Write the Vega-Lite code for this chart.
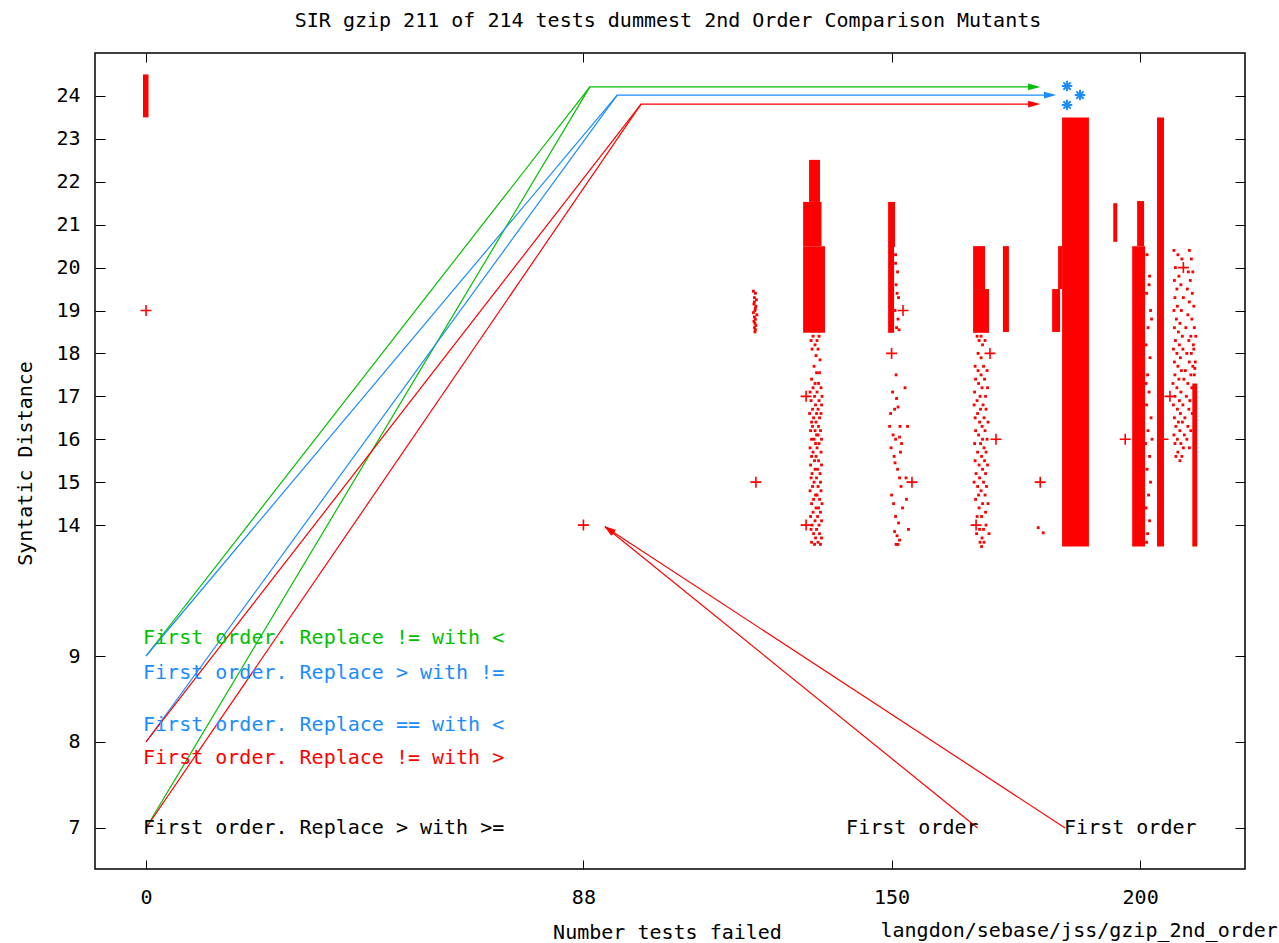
{
"$schema": "https://vega.github.io/schema/vega-lite/v6.json",
"width": 1150, "height": 816,
"autosize": {"type": "none"},
"padding": {"left": 95, "top": 53, "right": 34, "bottom": 74},
"background": "white",
"title": {"text": "SIR gzip 211 of 214 tests dummest 2nd Order Comparison Mutants", "font": "DejaVu Sans Mono", "fontSize": 20, "fontWeight": "normal", "color": "#000", "anchor": "middle", "baseline": "alphabetic", "offset": 6, "dx": -2},
"datasets": {
"blocks": [
{"x":-0.6,"x2":0.5,"y":23.5,"y2":24.5},
{"x":133.4,"x2":135.6,"y":21.53,"y2":22.51},
{"x":132.2,"x2":135.9,"y":20.5,"y2":21.53},
{"x":132.2,"x2":136.6,"y":18.48,"y2":20.5},
{"x":149.3,"x2":150.7,"y":20.48,"y2":21.53},
{"x":149.3,"x2":150.5,"y":18.48,"y2":20.48},
{"x":166.4,"x2":168.8,"y":19.5,"y2":20.5},
{"x":166.4,"x2":169.6,"y":18.48,"y2":19.5},
{"x":172.4,"x2":173.6,"y":18.5,"y2":20.5},
{"x":182.3,"x2":183.9,"y":18.5,"y2":19.5},
{"x":183.5,"x2":184.3,"y":19.5,"y2":20.5},
{"x":184.3,"x2":189.7,"y":13.5,"y2":23.5},
{"x":194.6,"x2":195.4,"y":20.6,"y2":21.5},
{"x":199.4,"x2":200.8,"y":20.5,"y2":21.55},
{"x":198.4,"x2":201.0,"y":13.5,"y2":20.5},
{"x":203.4,"x2":204.8,"y":13.5,"y2":23.5},
{"x":210.5,"x2":211.5,"y":13.5,"y2":17.3}
],
"dots": [
{"x":122.2,"y":19.45},{"x":122.6,"y":19.4},{"x":122.4,"y":19.3},{"x":122.8,"y":19.25},{"x":122.3,"y":19.15},{"x":122.7,"y":19.1},{"x":122.5,"y":19.0},{"x":122.2,"y":18.95},{"x":122.9,"y":18.9},{"x":122.4,"y":18.85},{"x":122.6,"y":18.8},{"x":122.3,"y":18.75},{"x":122.5,"y":18.7},{"x":122.7,"y":18.65},{"x":122.4,"y":18.6},{"x":122.6,"y":18.55},{"x":122.5,"y":18.5},{"x":122.4,"y":19.2},{"x":122.6,"y":19.05},
{"x":134.2,"y":18.4},{"x":135.4,"y":18.4},{"x":133.8,"y":18.3},{"x":135.0,"y":18.3},{"x":134.6,"y":18.2},{"x":135.2,"y":18.1},{"x":134.0,"y":18.1},{"x":134.8,"y":17.95},{"x":135.6,"y":17.85},{"x":134.4,"y":17.7},{"x":134.9,"y":17.55},{"x":135.5,"y":17.55},{"x":133.9,"y":17.4},{"x":134.6,"y":17.3},{"x":135.3,"y":17.3},{"x":134.2,"y":17.2},{"x":135.8,"y":17.2},{"x":133.6,"y":17.1},{"x":135.0,"y":17.1},{"x":134.5,"y":17.0},{"x":136.0,"y":17.0},{"x":133.8,"y":16.9},{"x":135.4,"y":16.9},{"x":134.7,"y":16.8},{"x":135.9,"y":16.8},{"x":134.1,"y":16.7},{"x":135.2,"y":16.7},{"x":133.5,"y":16.6},{"x":134.9,"y":16.6},{"x":135.8,"y":16.6},{"x":134.3,"y":16.5},{"x":135.5,"y":16.5},{"x":134.8,"y":16.4},{"x":133.9,"y":16.4},{"x":135.3,"y":16.3},{"x":134.1,"y":16.3},{"x":133.7,"y":16.2},{"x":134.6,"y":16.2},{"x":135.7,"y":16.2},{"x":134.9,"y":16.1},{"x":135.2,"y":16.1},{"x":133.9,"y":16.0},{"x":134.4,"y":16.0},{"x":135.9,"y":16.0},{"x":134.7,"y":15.9},{"x":135.4,"y":15.9},{"x":133.6,"y":15.8},{"x":135.0,"y":15.8},{"x":134.2,"y":15.7},{"x":135.8,"y":15.7},{"x":134.8,"y":15.6},{"x":133.9,"y":15.6},{"x":135.3,"y":15.5},{"x":134.5,"y":15.5},{"x":133.7,"y":15.4},{"x":135.9,"y":15.4},{"x":134.6,"y":15.3},{"x":135.1,"y":15.3},{"x":134.0,"y":15.2},{"x":135.6,"y":15.2},{"x":134.9,"y":15.1},{"x":133.8,"y":15.1},{"x":134.4,"y":15.0},{"x":135.7,"y":15.0},{"x":135.2,"y":14.9},{"x":134.1,"y":14.9},{"x":133.6,"y":14.8},{"x":135.8,"y":14.8},{"x":134.7,"y":14.7},{"x":135.0,"y":14.7},{"x":134.3,"y":14.6},{"x":135.5,"y":14.6},{"x":133.9,"y":14.5},{"x":136.0,"y":14.5},{"x":134.8,"y":14.4},{"x":135.3,"y":14.4},{"x":134.2,"y":14.3},{"x":135.7,"y":14.3},{"x":133.7,"y":14.2},{"x":135.1,"y":14.2},{"x":134.6,"y":14.1},{"x":135.9,"y":14.1},{"x":134.0,"y":14.0},{"x":135.4,"y":14.0},{"x":134.9,"y":13.9},{"x":133.8,"y":13.9},{"x":135.5,"y":13.8},{"x":134.3,"y":13.8},{"x":134.7,"y":13.7},{"x":135.9,"y":13.7},{"x":133.9,"y":13.6},{"x":135.2,"y":13.6},{"x":134.5,"y":13.55},{"x":135.7,"y":13.55},
{"x":150.9,"y":17.5},{"x":150.2,"y":17.1},{"x":151.0,"y":16.95},{"x":150.6,"y":16.7},{"x":151.3,"y":16.75},{"x":149.6,"y":16.3},{"x":151.7,"y":16.3},{"x":150.3,"y":16.1},{"x":150.8,"y":16.0},{"x":151.6,"y":16.05},{"x":149.9,"y":15.8},{"x":150.5,"y":15.6},{"x":151.8,"y":15.7},{"x":150.7,"y":15.45},{"x":151.2,"y":15.3},{"x":151.6,"y":15.1},{"x":150.0,"y":14.7},{"x":150.4,"y":14.5},{"x":150.8,"y":14.2},{"x":151.4,"y":14.05},{"x":150.6,"y":13.85},{"x":151.1,"y":13.75},{"x":151.6,"y":13.65},{"x":150.9,"y":13.55},{"x":151.3,"y":13.55},{"x":152.2,"y":14.4},{"x":151.9,"y":14.9},{"x":149.8,"y":16.6},{"x":152.0,"y":15.9},{"x":153.2,"y":16.3},{"x":152.9,"y":15.1},{"x":153.4,"y":13.9},{"x":152.7,"y":17.2},{"x":153.0,"y":14.6},
{"x":150.8,"y":20.3},{"x":151.2,"y":19.9},{"x":150.9,"y":19.6},{"x":151.4,"y":19.3},{"x":150.7,"y":19.0},{"x":151.3,"y":18.8},{"x":151.0,"y":18.6},{"x":151.5,"y":18.55},{"x":150.8,"y":20.1},{"x":151.1,"y":19.4},
{"x":167.2,"y":18.4},{"x":168.0,"y":18.4},{"x":167.6,"y":18.3},{"x":168.8,"y":18.3},{"x":168.3,"y":18.2},{"x":167.4,"y":18.0},{"x":168.0,"y":17.9},{"x":166.8,"y":17.7},{"x":168.5,"y":17.7},{"x":167.4,"y":17.6},{"x":169.2,"y":17.6},{"x":168.0,"y":17.5},{"x":166.9,"y":17.4},{"x":168.7,"y":17.4},{"x":167.5,"y":17.3},{"x":168.2,"y":17.2},{"x":169.3,"y":17.2},{"x":166.7,"y":17.1},{"x":167.8,"y":17.0},{"x":168.9,"y":17.0},{"x":167.2,"y":16.9},{"x":168.4,"y":16.8},{"x":166.6,"y":16.8},{"x":167.9,"y":16.7},{"x":169.0,"y":16.7},{"x":167.3,"y":16.6},{"x":168.6,"y":16.5},{"x":166.8,"y":16.5},{"x":167.7,"y":16.4},{"x":169.4,"y":16.4},{"x":168.2,"y":16.3},{"x":166.9,"y":16.2},{"x":168.8,"y":16.2},{"x":167.5,"y":16.1},{"x":168.3,"y":16.0},{"x":169.2,"y":16.0},{"x":166.7,"y":15.9},{"x":167.9,"y":15.9},{"x":168.6,"y":15.8},{"x":167.3,"y":15.7},{"x":169.0,"y":15.7},{"x":168.1,"y":15.6},{"x":166.8,"y":15.5},{"x":168.7,"y":15.5},{"x":167.6,"y":15.4},{"x":169.3,"y":15.4},{"x":168.3,"y":15.3},{"x":167.0,"y":15.2},{"x":168.9,"y":15.2},{"x":167.7,"y":15.1},{"x":168.5,"y":15.0},{"x":166.6,"y":15.0},{"x":167.3,"y":14.9},{"x":169.1,"y":14.9},{"x":168.0,"y":14.8},{"x":167.5,"y":14.7},{"x":168.8,"y":14.7},{"x":166.9,"y":14.6},{"x":168.3,"y":14.5},{"x":169.4,"y":14.5},{"x":167.6,"y":14.4},{"x":168.9,"y":14.3},{"x":167.2,"y":14.2},{"x":168.1,"y":14.2},{"x":169.0,"y":14.0},{"x":167.7,"y":13.9},{"x":168.5,"y":13.9},{"x":167.1,"y":13.8},{"x":169.6,"y":13.8},{"x":168.2,"y":13.7},{"x":167.8,"y":13.6},{"x":168.6,"y":13.6},{"x":168.1,"y":13.5},
{"x":179.5,"y":13.94},{"x":180.5,"y":13.82},
{"x":201.4,"y":20.3},{"x":201.9,"y":19.8},{"x":201.3,"y":19.4},{"x":202.1,"y":19.0},{"x":201.6,"y":18.6},{"x":201.2,"y":18.2},{"x":202.0,"y":17.9},{"x":201.5,"y":17.5},{"x":201.8,"y":17.1},{"x":201.3,"y":16.8},{"x":202.2,"y":16.5},{"x":201.6,"y":16.2},{"x":201.1,"y":15.9},{"x":201.9,"y":15.6},{"x":201.4,"y":15.3},{"x":202.1,"y":15.0},{"x":201.7,"y":14.7},{"x":201.2,"y":14.4},{"x":201.9,"y":14.1},{"x":201.5,"y":13.8},{"x":201.3,"y":13.6},{"x":202.3,"y":18.8},{"x":201.8,"y":19.6},{"x":202.4,"y":16.0},{"x":201.2,"y":17.3},
{"x":206.8,"y":20.4},{"x":209.9,"y":20.4},{"x":207.6,"y":20.3},{"x":208.4,"y":20.2},{"x":210.3,"y":20.2},{"x":207.1,"y":20.0},{"x":209.7,"y":19.9},{"x":210.6,"y":19.9},{"x":207.8,"y":19.8},{"x":206.9,"y":19.7},{"x":210.1,"y":19.7},{"x":208.2,"y":19.6},{"x":207.4,"y":19.5},{"x":209.5,"y":19.5},{"x":210.5,"y":19.4},{"x":207.0,"y":19.3},{"x":208.7,"y":19.3},{"x":209.9,"y":19.2},{"x":207.5,"y":19.1},{"x":210.8,"y":19.1},{"x":206.8,"y":19.0},{"x":208.3,"y":19.0},{"x":209.6,"y":18.9},{"x":207.3,"y":18.8},{"x":210.4,"y":18.8},{"x":208.0,"y":18.7},{"x":206.9,"y":18.6},{"x":209.2,"y":18.6},{"x":210.9,"y":18.6},{"x":207.7,"y":18.5},{"x":208.5,"y":18.4},{"x":210.2,"y":18.4},{"x":207.1,"y":18.3},{"x":209.8,"y":18.3},{"x":207.9,"y":18.2},{"x":210.7,"y":18.2},{"x":206.7,"y":18.1},{"x":208.6,"y":18.1},{"x":207.4,"y":18.0},{"x":209.4,"y":18.0},{"x":210.3,"y":18.0},{"x":208.1,"y":17.9},{"x":206.9,"y":17.8},{"x":209.9,"y":17.8},{"x":207.6,"y":17.7},{"x":210.6,"y":17.7},{"x":208.3,"y":17.6},{"x":209.1,"y":17.6},{"x":207.0,"y":17.5},{"x":210.2,"y":17.5},{"x":207.8,"y":17.4},{"x":208.8,"y":17.4},{"x":206.6,"y":17.3},{"x":209.6,"y":17.3},{"x":207.4,"y":17.2},{"x":210.4,"y":17.2},{"x":208.2,"y":17.1},{"x":207.0,"y":17.0},{"x":209.3,"y":17.0},{"x":207.9,"y":16.9},{"x":210.0,"y":16.9},{"x":206.7,"y":16.8},{"x":208.6,"y":16.8},{"x":207.5,"y":16.7},{"x":209.8,"y":16.7},{"x":208.1,"y":16.6},{"x":210.5,"y":16.6},{"x":206.9,"y":16.5},{"x":209.0,"y":16.5},{"x":207.7,"y":16.4},{"x":208.5,"y":16.4},{"x":207.2,"y":16.3},{"x":209.6,"y":16.3},{"x":208.0,"y":16.2},{"x":210.2,"y":16.2},{"x":206.8,"y":16.1},{"x":208.9,"y":16.1},{"x":207.5,"y":16.0},{"x":209.4,"y":16.0},{"x":208.2,"y":15.9},{"x":207.0,"y":15.9},{"x":208.7,"y":15.8},{"x":209.9,"y":15.8},{"x":207.6,"y":15.7},{"x":208.4,"y":15.6},{"x":207.2,"y":15.6},{"x":208.0,"y":15.5},
{"x":210.9,"y":17.5},{"x":211.1,"y":17.8},{"x":210.8,"y":18.1},{"x":211.2,"y":18.4},{"x":211.0,"y":17.65}
],
"plus": [
{"x":0,"y":19},{"x":88,"y":14},{"x":122.7,"y":15},{"x":132.8,"y":17},{"x":132.8,"y":14},{"x":152.3,"y":19},{"x":150,"y":18},{"x":154.1,"y":15},{"x":169.8,"y":18},{"x":171,"y":16},{"x":167,"y":14},{"x":179.9,"y":15},{"x":197,"y":16},{"x":204.6,"y":16},{"x":208.7,"y":20},{"x":206,"y":17}
],
"paths": [
{"path":"g1","grp":"A","step":1,"x":0,"y":9},
{"path":"g1","grp":"A","step":2,"x":89.3,"y":24.21},
{"path":"g1","grp":"A","step":3,"x":179,"y":24.21},
{"path":"g2","grp":"A","step":1,"x":0,"y":7},
{"path":"g2","grp":"A","step":2,"x":89.3,"y":24.21},
{"path":"b1","grp":"B","step":1,"x":0,"y":9},
{"path":"b1","grp":"B","step":2,"x":94.8,"y":24.02},
{"path":"b1","grp":"B","step":3,"x":182.2,"y":24.02},
{"path":"b2","grp":"B","step":1,"x":0,"y":8},
{"path":"b2","grp":"B","step":2,"x":94.8,"y":24.02},
{"path":"r1","grp":"C","step":1,"x":0,"y":8},
{"path":"r1","grp":"C","step":2,"x":99.6,"y":23.81},
{"path":"r1","grp":"C","step":3,"x":179,"y":23.81},
{"path":"r2","grp":"C","step":1,"x":0,"y":7},
{"path":"r2","grp":"C","step":2,"x":99.6,"y":23.81}
],
"heads": [
{"grp":"A","x":178.7,"y":24.21},{"grp":"B","x":181.9,"y":24.02},{"grp":"C","x":178.7,"y":23.81}
],
"stars": [
{"x":185.3,"y":24.23},{"x":187.9,"y":24.02},{"x":185.3,"y":23.79}
],
"fo_arrows": [
{"id":1,"x":167.3,"y":7.0,"x2":92.35,"y2":13.96},
{"id":2,"x":184.9,"y":7.0,"x2":92.35,"y2":13.96}
],
"fo_heads": [
{"id":1,"x":93.1,"y":13.89},{"id":2,"x":93.2,"y":13.9}
],
"fo_labels": [
{"grp":"A","x":-0.6,"y":9.82,"label":"First order. Replace != with <"},
{"grp":"B","x":-0.6,"y":8.8,"label":"First order. Replace > with !="},
{"grp":"B","x":-0.6,"y":8.2,"label":"First order. Replace == with <"},
{"grp":"C","x":-0.6,"y":7.81,"label":"First order. Replace != with >"},
{"grp":"K","x":-0.6,"y":7.0,"label":"First order. Replace > with >="}
],
"notes": [
{"x":140.85,"y":7.0,"label":"First order"},{"x":184.7,"y":7.0,"label":"First order"}
]
},
"layer": [
{"data":{"name":"blocks"},"mark":{"type":"rect","color":"#ff0000"},
 "encoding":{
  "x":{"field":"x","type":"quantitative","scale":{"domain":[-10.26,221.1],"nice":false,"zero":false},
       "axis":{"orient":"bottom","values":[0,88,150,200],"tickSize":-9,"labelPadding":37,"labelBaseline":"middle","domain":false,"grid":false,"title":"Number tests failed","titleX":572,"titleY":63,"titleAlign":"center","titleBaseline":"middle"}},
  "x2":{"field":"x2"},
  "y":{"field":"y","type":"quantitative","scale":{"domain":[6.523,9,13,25],"range":[816,603,515,0],"nice":false,"zero":false},
       "axis":{"orient":"left","values":[7,8,9,14,15,16,17,18,19,20,21,22,23,24],"tickSize":-10,"labelPadding":25,"domain":false,"grid":false,"title":"Syntatic Distance","titleX":-70,"titleY":410,"titleAngle":270,"titleAlign":"center","titleBaseline":"middle"}},
  "y2":{"field":"y2"}}},
{"data":{"name":"dots"},"mark":{"type":"point","shape":"square","size":8,"filled":true,"color":"#ff0000","opacity":1},
 "encoding":{
  "x":{"field":"x","type":"quantitative","scale":{"domain":[-10.26,221.1],"nice":false,"zero":false},
       "axis":{"orient":"top","values":[0,88,150,200],"tickSize":-9,"labels":false,"domain":false,"grid":false,"title":null}},
  "y":{"field":"y","type":"quantitative","scale":{"domain":[6.523,9,13,25],"range":[816,603,515,0],"nice":false,"zero":false},
       "axis":{"orient":"right","values":[7,8,9,14,15,16,17,18,19,20,21,22,23,24],"tickSize":-10,"labels":false,"domain":false,"grid":false,"title":"langdon/sebase/jss/gzip_2nd_order","titleAngle":0,"titleX":-365,"titleY":877,"titleAlign":"left","titleBaseline":"middle"}}}},
{"data":{"name":"plus"},"mark":{"type":"point","shape":"M-1,0L1,0M0,-1L0,1","size":121,"filled":false,"stroke":"#ff0000","strokeWidth":1.6,"opacity":1},
 "encoding":{
  "x":{"field":"x","type":"quantitative","scale":{"domain":[-10.26,221.1],"nice":false,"zero":false},"axis":null},
  "y":{"field":"y","type":"quantitative","scale":{"domain":[6.523,9,13,25],"range":[816,603,515,0],"nice":false,"zero":false},"axis":null}}},
{"data":{"name":"paths"},"mark":{"type":"line","strokeWidth":1.2},
 "encoding":{
  "x":{"field":"x","type":"quantitative","scale":{"domain":[-10.26,221.1],"nice":false,"zero":false},"axis":null},
  "y":{"field":"y","type":"quantitative","scale":{"domain":[6.523,9,13,25],"range":[816,603,515,0],"nice":false,"zero":false},"axis":null},
  "detail":{"field":"path","type":"nominal"},
  "order":{"field":"step","type":"quantitative"},
  "color":{"field":"grp","type":"nominal","scale":{"domain":["A","B","C","K"],"range":["#00c000","#1a8cff","#ff0000","#000000"]},"legend":null}}},
{"data":{"name":"heads"},"mark":{"type":"point","shape":"M-1,-0.55L1,0L-1,0.55Z","size":150,"filled":true,"opacity":1},
 "encoding":{
  "x":{"field":"x","type":"quantitative","scale":{"domain":[-10.26,221.1],"nice":false,"zero":false},"axis":null},
  "y":{"field":"y","type":"quantitative","scale":{"domain":[6.523,9,13,25],"range":[816,603,515,0],"nice":false,"zero":false},"axis":null},
  "color":{"field":"grp","type":"nominal","legend":null}}},
{"data":{"name":"stars"},"mark":{"type":"point","shape":"M-1,0L1,0M0,-1L0,1M-0.7,-0.7L0.7,0.7M-0.7,0.7L0.7,-0.7","size":110,"filled":false,"stroke":"#1a8cff","strokeWidth":2,"opacity":1},
 "encoding":{
  "x":{"field":"x","type":"quantitative","scale":{"domain":[-10.26,221.1],"nice":false,"zero":false},"axis":null},
  "y":{"field":"y","type":"quantitative","scale":{"domain":[6.523,9,13,25],"range":[816,603,515,0],"nice":false,"zero":false},"axis":null}}},
{"data":{"name":"fo_arrows"},"mark":{"type":"rule","color":"#ff0000","strokeWidth":1.2},
 "encoding":{
  "x":{"field":"x","type":"quantitative","scale":{"domain":[-10.26,221.1],"nice":false,"zero":false},"axis":null},
  "y":{"field":"y","type":"quantitative","scale":{"domain":[6.523,9,13,25],"range":[816,603,515,0],"nice":false,"zero":false},"axis":null},
  "x2":{"field":"x2"},"y2":{"field":"y2"}}},
{"data":{"name":"fo_heads"},"transform":[{"filter":"datum.id == 1"}],"mark":{"type":"point","shape":"M-1,-0.55L1,0L-1,0.55Z","size":130,"filled":true,"color":"#ff0000","opacity":1,"angle":219},
 "encoding":{
  "x":{"field":"x","type":"quantitative","scale":{"domain":[-10.26,221.1],"nice":false,"zero":false},"axis":null},
  "y":{"field":"y","type":"quantitative","scale":{"domain":[6.523,9,13,25],"range":[816,603,515,0],"nice":false,"zero":false},"axis":null}}},
{"data":{"name":"fo_heads"},"transform":[{"filter":"datum.id == 2"}],"mark":{"type":"point","shape":"M-1,-0.55L1,0L-1,0.55Z","size":130,"filled":true,"color":"#ff0000","opacity":1,"angle":213},
 "encoding":{
  "x":{"field":"x","type":"quantitative","scale":{"domain":[-10.26,221.1],"nice":false,"zero":false},"axis":null},
  "y":{"field":"y","type":"quantitative","scale":{"domain":[6.523,9,13,25],"range":[816,603,515,0],"nice":false,"zero":false},"axis":null}}},
{"data":{"name":"fo_labels"},"mark":{"type":"text","align":"left","baseline":"middle","font":"DejaVu Sans Mono","fontSize":20},
 "encoding":{
  "x":{"field":"x","type":"quantitative","scale":{"domain":[-10.26,221.1],"nice":false,"zero":false},"axis":null},
  "y":{"field":"y","type":"quantitative","scale":{"domain":[6.523,9,13,25],"range":[816,603,515,0],"nice":false,"zero":false},"axis":null},
  "text":{"field":"label"},
  "color":{"field":"grp","type":"nominal","legend":null}}},
{"data":{"name":"notes"},"mark":{"type":"text","align":"left","baseline":"middle","font":"DejaVu Sans Mono","fontSize":20,"color":"#000000"},
 "encoding":{
  "x":{"field":"x","type":"quantitative","scale":{"domain":[-10.26,221.1],"nice":false,"zero":false},"axis":null},
  "y":{"field":"y","type":"quantitative","scale":{"domain":[6.523,9,13,25],"range":[816,603,515,0],"nice":false,"zero":false},"axis":null},
  "text":{"field":"label"}}}
],
"resolve": {"axis": {"x": "independent", "y": "independent"}},
"config": {
 "view": {"stroke": "#000000", "strokeWidth": 1.5},
 "axis": {"labelFont": "DejaVu Sans Mono", "labelFontSize": 20, "labelColor": "#000000", "titleFont": "DejaVu Sans Mono", "titleFontSize": 20, "titleFontWeight": "normal", "titleColor": "#000000", "tickColor": "#000000", "tickWidth": 1, "grid": false}
}
}
